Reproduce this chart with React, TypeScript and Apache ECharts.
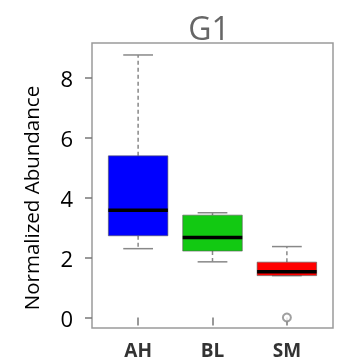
import React, { useEffect, useRef } from "react";
import * as echarts from "echarts";

const categories = ["AH", "BL", "SM"];
const lowWhisker = [2.3, 1.86, 1.4];
const q1 = [2.73, 2.22, 1.4];
const median = [3.58, 2.67, 1.53];
const q3 = [5.4, 3.42, 1.85];
const highWhisker = [8.77, 3.5, 2.37];
const boxColors = ["#0000ff", "#12c912", "#ff0000"];
const outliers = [[3, 0]];
const yTicks = [0, 2, 4, 6, 8];

export default function App() {
  const ref = useRef<HTMLDivElement>(null);
  useEffect(() => {
    if (!ref.current) return;
    const chart = echarts.init(ref.current, null, { renderer: "svg" });
    const boxData = categories.map((c, i) => [i + 1, lowWhisker[i], q1[i], median[i], q3[i], highWhisker[i], i]);
    const font = "'Open Sans', sans-serif";
    chart.setOption({
      animation: false,
      title: {
        text: "G1",
        left: 204,
        top: 6,
        textAlign: "center",
        textStyle: { fontFamily: font, fontSize: 32, fontWeight: "normal", color: "#666" },
      },
      grid: {
        left: 92,
        top: 43,
        right: 4,
        bottom: 36,
        show: true,
        borderColor: "#9a9a9a",
        borderWidth: 1.5,
        backgroundColor: "#fff",
      },
      xAxis: {
        type: "value",
        min: 0.38,
        max: 3.62,
        splitLine: { show: false },
        axisLine: { show: false },
        axisTick: { show: true, customValues: [1, 2, 3], length: 8, lineStyle: { color: "#777", width: 1.5 } },
        axisLabel: {
          customValues: [1, 2, 3],
          formatter: (v: number) => categories[Math.round(v) - 1] ?? "",
          margin: 12,
          fontFamily: font,
          fontSize: 19,
          fontWeight: "bold",
          color: "#333",
        },
      },
      yAxis: {
        type: "value",
        min: -0.35,
        max: 9.17,
        splitLine: { show: false },
        axisLine: { show: false },
        axisTick: { show: true, customValues: yTicks, length: 7, lineStyle: { color: "#777", width: 1.5 } },
        axisLabel: {
          customValues: yTicks,
          margin: 19,
          fontFamily: font,
          fontSize: 22,
          color: "#000",
        },
      },
      graphic: [
        {
          type: "text",
          x: 31,
          y: 198,
          rotation: Math.PI / 2,
          style: {
            text: "Normalized Abundance",
            fontFamily: font,
            fontSize: 20.5,
            fill: "#000",
            textAlign: "center",
            textVerticalAlign: "middle",
          },
        },
      ],
      series: [
        {
          type: "custom",
          data: boxData,
          encode: { x: 0, y: [1, 2, 3, 4, 5] },
          renderItem: (params: any, api: any) => {
            const x = api.value(0);
            const idx = api.value(6);
            const half = 0.4;
            const capHalf = 0.2;
            const pLow = api.coord([x, api.value(1)]);
            const pQ1 = api.coord([x, api.value(2)]);
            const pMed = api.coord([x, api.value(3)]);
            const pQ3 = api.coord([x, api.value(4)]);
            const pHigh = api.coord([x, api.value(5)]);
            const left = api.coord([x - half, 0])[0];
            const right = api.coord([x + half, 0])[0];
            const capL = api.coord([x - capHalf, 0])[0];
            const capR = api.coord([x + capHalf, 0])[0];
            const cx = pLow[0];
            const whiskerStyle = { stroke: "#888", lineWidth: 1.5, lineDash: [4, 3] };
            const capStyle = { stroke: "#888", lineWidth: 1.5 };
            return {
              type: "group",
              children: [
                { type: "line", shape: { x1: cx, y1: pQ3[1], x2: cx, y2: pHigh[1] }, style: whiskerStyle },
                { type: "line", shape: { x1: cx, y1: pQ1[1], x2: cx, y2: pLow[1] }, style: whiskerStyle },
                { type: "line", shape: { x1: capL, y1: pHigh[1], x2: capR, y2: pHigh[1] }, style: capStyle },
                { type: "line", shape: { x1: capL, y1: pLow[1], x2: capR, y2: pLow[1] }, style: capStyle },
                {
                  type: "rect",
                  shape: { x: left, y: pQ3[1], width: right - left, height: pQ1[1] - pQ3[1] },
                  style: { fill: boxColors[idx], stroke: "#555", lineWidth: 0.6 },
                },
                {
                  type: "line",
                  shape: { x1: left, y1: pMed[1], x2: right, y2: pMed[1] },
                  style: { stroke: "#000", lineWidth: 3.5 },
                },
              ],
            };
          },
        },
        {
          type: "scatter",
          data: outliers,
          symbol: "emptyCircle",
          symbolSize: 8,
          itemStyle: { color: "#888", borderColor: "#888", borderWidth: 1.6 },
          z: 5,
        },
      ],
    });
    return () => chart.dispose();
  }, []);
  return <div ref={ref} style={{ position: "fixed", left: 0, top: 0, width: 337, height: 364 }} />;
}
